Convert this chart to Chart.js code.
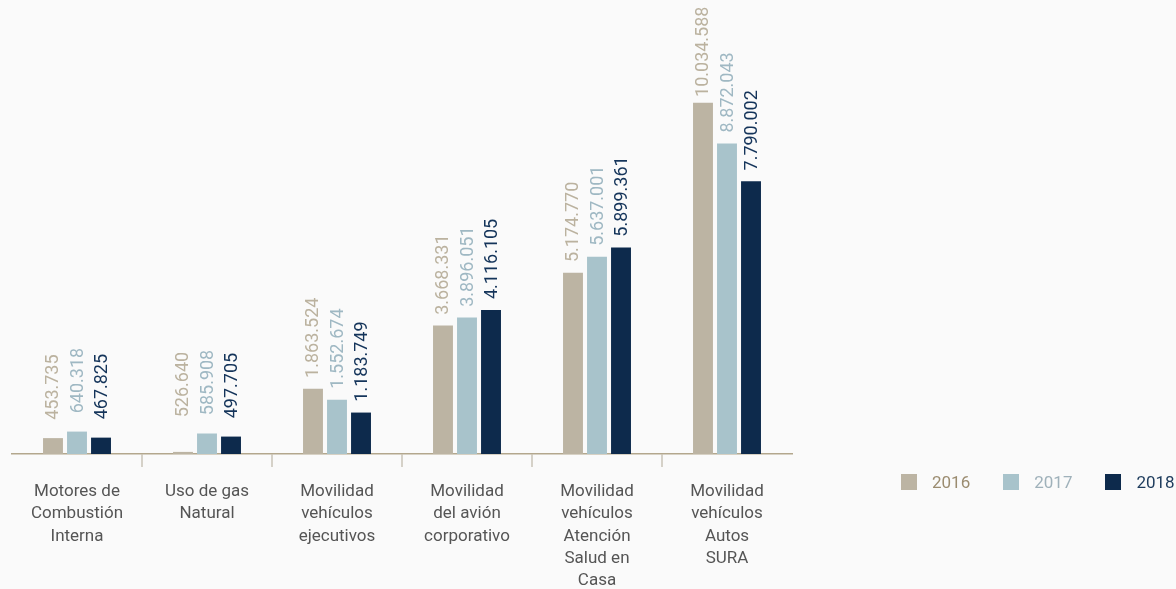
<!DOCTYPE html>
<html>
<head>
    <meta charset="utf-8">
    <title>Consumo por fuente 2016-2018</title>
    <script src="https://cdn.jsdelivr.net/npm/chart.js"></script>
    <style>
        html, body {
            margin: 0;
            padding: 0;
            background: #fafafa;
            font-family: Roboto, "DejaVu Sans", sans-serif;
        }
        #chartContainer {
            position: relative;
            width: 1176px;
            height: 589px;
        }
        #legend {
            position: absolute;
            left: 901px;
            top: 472px;
            display: flex;
            font-size: 17px;
        }
        .item {
            display: flex;
            align-items: center;
            margin-right: 33px;
        }
        .box {
            width: 16px;
            height: 16px;
            margin-right: 15px;
        }
    </style>
</head>
<body>
    <div id="chartContainer">
        <canvas id="myChart" width="1176" height="589"></canvas>
        <div id="legend"></div>
    </div>

    <script>
        // categories (one array of lines per group)
        const categories = [
            ['Motores de', 'Combustión', 'Interna'],
            ['Uso de gas', 'Natural'],
            ['Movilidad', 'vehículos', 'ejecutivos'],
            ['Movilidad', 'del avión', 'corporativo'],
            ['Movilidad', 'vehículos', 'Atención', 'Salud en', 'Casa'],
            ['Movilidad', 'vehículos', 'Autos', 'SURA']
        ];
        const years = ['2016', '2017', '2018'];

        // printed values
        const values2016 = [453735, 526640, 1863524, 3668331, 5174770, 10034588];
        const values2017 = [640318, 585908, 1552674, 3896051, 5637001, 8872043];
        const values2018 = [467825, 497705, 1183749, 4116105, 5899361, 7790002];

        // bar heights as drawn (the 2016 gas bar is drawn much shorter than its label)
        const bars2016 = [453735, 60000, 1863524, 3668331, 5174770, 10034588];
        const bars2017 = values2017;
        const bars2018 = values2018;

        const barColors = ['#bcb4a3', '#a8c3cb', '#0d2a4c'];
        const labelColors = ['#bbb29f', '#9fb8c3', '#14345a'];
        const legendColors = ['#9b8c70', '#9fb1ba', '#1d3b5c'];

        function fmt(n) {
            return n.toString().replace(/\B(?=(\d{3})+(?!\d))/g, '.');
        }

        // rotated value labels above bars
        const valueLabels = {
            id: 'valueLabels',
            afterDatasetsDraw(chart) {
                const ctx = chart.ctx;
                const yScale = chart.scales.y;
                chart.data.datasets.forEach((ds, i) => {
                    const meta = chart.getDatasetMeta(i);
                    meta.data.forEach((bar, j) => {
                        const v = ds.printed[j];
                        const y = yScale.getPixelForValue(v) - 51;
                        ctx.save();
                        ctx.translate(bar.x + 1, y);
                        ctx.rotate(-Math.PI / 2);
                        ctx.font = '400 18px Roboto, sans-serif';
                        ctx.fillStyle = labelColors[i];
                        ctx.textAlign = 'center';
                        ctx.textBaseline = 'middle';
                        ctx.fillText(fmt(v), 0, 0);
                        ctx.restore();
                    });
                });
            }
        };

        const config = {
            type: 'bar',
            data: {
                labels: categories,
                datasets: [
                    { label: years[0], data: bars2016, printed: values2016, backgroundColor: barColors[0] },
                    { label: years[1], data: bars2017, printed: values2017, backgroundColor: barColors[1] },
                    { label: years[2], data: bars2018, printed: values2018, backgroundColor: barColors[2] }
                ]
            },
            options: {
                responsive: false,
                animation: false,
                categoryPercentage: 0.554,
                barPercentage: 0.83,
                layout: {
                    padding: { left: 12, right: 384, top: 0, bottom: 0 }
                },
                plugins: {
                    legend: { display: false },
                    tooltip: { enabled: false }
                },
                scales: {
                    x: {
                        border: { display: true, color: '#b3a78d', width: 1.5 },
                        grid: {
                            offset: true,
                            drawOnChartArea: false,
                            drawTicks: true,
                            tickLength: 13,
                            lineWidth: 2,
                            color: (c) => (c.type !== 'tick' || c.index === 0) ? 'rgba(0,0,0,0)' : '#d5d1c8'
                        },
                        ticks: {
                            color: '#555555',
                            padding: 14,
                            maxRotation: 0,
                            autoSkip: false,
                            font: { family: 'Roboto, sans-serif', size: 17, lineHeight: 1.3 }
                        },
                        afterFit: (scale) => { scale.height = 135; }
                    },
                    y: {
                        display: false,
                        min: 0,
                        max: 12970000
                    }
                }
            },
            plugins: [valueLabels]
        };

        const ctx = document.getElementById('myChart').getContext('2d');
        const myChart = new Chart(ctx, config);

        // legend
        const legend = document.getElementById('legend');
        years.forEach((y, i) => {
            const item = document.createElement('div');
            item.className = 'item';
            const box = document.createElement('span');
            box.className = 'box';
            box.style.background = barColors[i];
            const txt = document.createElement('span');
            txt.textContent = y;
            txt.style.color = legendColors[i];
            item.appendChild(box);
            item.appendChild(txt);
            legend.appendChild(item);
        });
    </script>
</body>
</html>
